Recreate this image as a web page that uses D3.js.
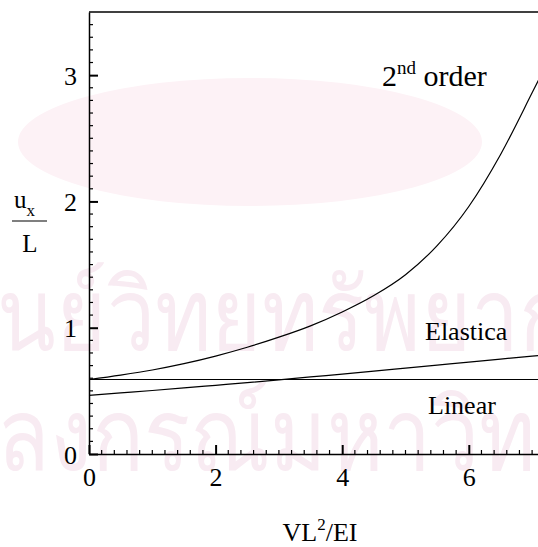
<!DOCTYPE html>
<html>
<head>
<meta charset="utf-8">
<script src="https://cdn.jsdelivr.net/npm/d3@7"></script>
<style>
  body { margin: 0; background: #fff; }
  svg text { font-family: "Liberation Serif", "Times New Roman", serif; fill: #000; }
</style>
</head>
<body>
<script>
// load parameter VL^2/EI and the tip displacement u_x/L of each analysis
var loads       = [0, 0.5, 1, 1.5, 2, 2.5, 3, 3.5, 4, 4.5, 5, 5.5, 6, 6.5, 7, 7.1];
var secondOrder = [0.59, 0.625, 0.665, 0.715, 0.775, 0.845, 0.925, 1.015, 1.125, 1.255, 1.42, 1.65, 1.96, 2.37, 2.86, 2.96];
var elastica    = [0.465, 0.484, 0.503, 0.523, 0.544, 0.565, 0.587, 0.61, 0.633, 0.656, 0.68, 0.704, 0.728, 0.752, 0.775, 0.78];
var linear      = [0.59, 0.59, 0.59, 0.59, 0.59, 0.59, 0.59, 0.59, 0.59, 0.59, 0.59, 0.59, 0.59, 0.59, 0.59, 0.59];

var xTicks = [0, 2, 4, 6];
var yTicks = [0, 1, 2, 3];
var xMinorTicks = [0.2, 0.4, 0.6, 0.8, 1, 1.2, 1.4, 1.6, 1.8, 2.2, 2.4, 2.6, 2.8, 3, 3.2, 3.4, 3.6, 3.8,
                   4.2, 4.4, 4.6, 4.8, 5, 5.2, 5.4, 5.6, 5.8, 6.2, 6.4, 6.6, 6.8, 7];
var yMinorTicks = [0.1, 0.2, 0.3, 0.4, 0.5, 0.6, 0.7, 0.8, 0.9, 1.1, 1.2, 1.3, 1.4, 1.5, 1.6, 1.7, 1.8, 1.9,
                   2.1, 2.2, 2.3, 2.4, 2.5, 2.6, 2.7, 2.8, 2.9, 3.1, 3.2, 3.3, 3.4];

var width = 538,
    height = 547,
    plotLeft = 89,
    plotTop = 12,
    plotBottom = 454;

var svg = d3.select("body").append("svg")
    .attr("width", width)
    .attr("height", height);

// faint background watermark
var wm = svg.append("g").attr("class", "watermark");
wm.append("ellipse")
    .attr("cx", 250).attr("cy", 142).attr("rx", 232).attr("ry", 64)
    .style("fill", "#fdf2f6");
var wmLines = [{t: "ศูนย์วิทยทรัพยากร", cut: "ศู", y: 350}, {t: "จุฬาลงกรณ์มหาวิทยาลัย", cut: "จุฬา", y: 470}];
wmLines.forEach(function(d) {
  var g = wm.append("g").attr("transform", "scale(0.86,1)");
  var probe = g.append("text").style("font-family", "sans-serif").style("font-size", "100px").text(d.cut);
  var w = probe.node().getComputedTextLength();
  probe.remove();
  g.append("text")
      .attr("x", -w - 3)
      .attr("y", d.y)
      .style("font-family", "sans-serif")
      .style("font-size", "100px")
      .style("fill", "#f8ebf2")
      .text(d.t);
});

var x = d3.scaleLinear().domain([0, 7.1]).range([plotLeft, plotLeft + 7.1 * 63.3]);
var y = d3.scaleLinear().domain([0, 3.5]).range([plotBottom, plotTop]);

// tick marks point into the plot
var ticks = svg.append("g").attr("class", "ticks").style("stroke", "#000");
ticks.selectAll(".xminor").data(xMinorTicks).enter().append("line")
    .attr("x1", function(d) { return x(d); }).attr("x2", function(d) { return x(d); })
    .attr("y1", plotBottom).attr("y2", plotBottom - 4)
    .style("stroke-width", 1.2);
ticks.selectAll(".yminor").data(yMinorTicks).enter().append("line")
    .attr("x1", plotLeft).attr("x2", plotLeft + 4)
    .attr("y1", function(d) { return y(d); }).attr("y2", function(d) { return y(d); })
    .style("stroke-width", 1.2);

var xAxis = svg.append("g")
    .attr("transform", "translate(0," + plotBottom + ")")
    .call(d3.axisBottom(x).tickValues(xTicks).tickSize(-9).tickSizeOuter(0).tickPadding(14).tickFormat(d3.format("d")));
var yAxis = svg.append("g")
    .attr("transform", "translate(" + plotLeft + ",0)")
    .call(d3.axisLeft(y).tickValues(yTicks).tickSize(-9).tickSizeOuter(0).tickPadding(12).tickFormat(d3.format("d")));

svg.selectAll(".tick line").attr("stroke", "#000").style("stroke-width", 2);
svg.selectAll(".domain").attr("stroke", "#000").style("stroke-width", 1.5);
svg.selectAll(".tick text")
    .style("font-family", "'Liberation Serif', 'Times New Roman', serif")
    .style("font-size", "26px");
xAxis.selectAll(".tick text").attr("dy", "0.71em");
yAxis.selectAll(".tick text").attr("dy", "0.35em");

// top frame line
svg.append("line")
    .attr("x1", plotLeft).attr("x2", width)
    .attr("y1", y(3.5)).attr("y2", y(3.5))
    .style("stroke", "#000").style("stroke-width", 1.5);

var line = d3.line()
    .curve(d3.curveMonotoneX)
    .x(function(d, i) { return x(loads[i]); })
    .y(function(d) { return y(d); });

[secondOrder, elastica, linear].forEach(function(s) {
  svg.append("path")
      .attr("d", line(s))
      .style("fill", "none")
      .style("stroke", "#000")
      .style("stroke-width", 1.2);
});

// curve labels
var lab = svg.append("text").attr("x", 382).attr("y", 86).style("font-size", "30px");
lab.append("tspan").text("2");
lab.append("tspan").attr("dy", -12).style("font-size", "19px").text("nd");
lab.append("tspan").attr("dy", 12).text(" order");

svg.append("text").attr("x", 425).attr("y", 340).style("font-size", "26px").text("Elastica");
svg.append("text").attr("x", 428).attr("y", 414).style("font-size", "26px").text("Linear");

// axis titles
var xt = svg.append("text").attr("x", 320).attr("y", 541)
    .attr("text-anchor", "middle").style("font-size", "26px");
xt.append("tspan").text("VL");
xt.append("tspan").attr("dy", -11).style("font-size", "17px").text("2");
xt.append("tspan").attr("dy", 11).text("/EI");

var yt = svg.append("text").attr("x", 14).attr("y", 208).style("font-size", "25px");
yt.append("tspan").text("u");
yt.append("tspan").attr("dy", 8).style("font-size", "17px").text("x");
svg.append("line")
    .attr("x1", 12).attr("x2", 47).attr("y1", 221).attr("y2", 221)
    .style("stroke", "#000").style("stroke-width", 1.2);
svg.append("text").attr("x", 30).attr("y", 252)
    .attr("text-anchor", "middle").style("font-size", "25px").text("L");
</script>
</body>
</html>
